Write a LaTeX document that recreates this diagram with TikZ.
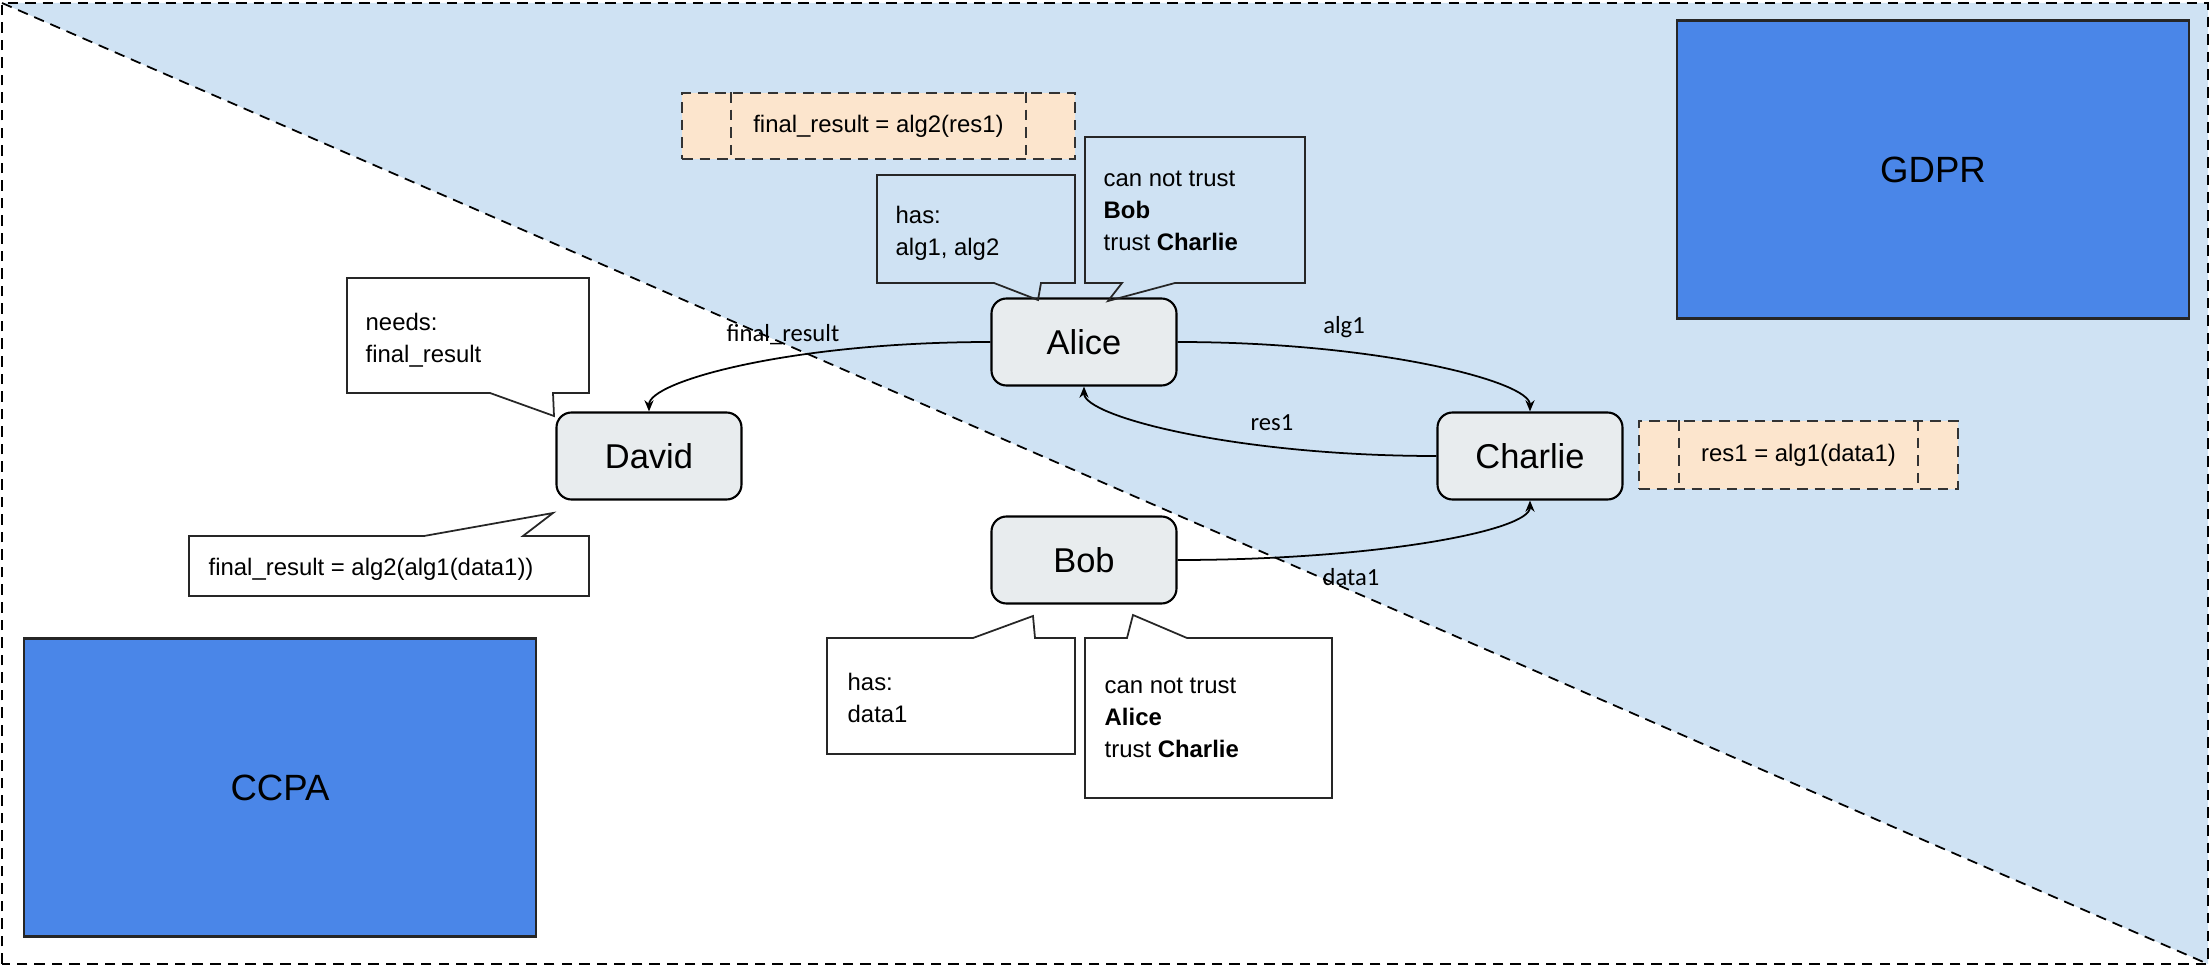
\documentclass[tikz,border=0pt]{standalone}
\usepackage{fontspec}
\setmainfont{Liberation Sans}
\newfontfamily\edgefont{Carlito}
\usetikzlibrary{arrows.meta}

\definecolor{zoneblue}{HTML}{CFE2F3}
\definecolor{lawblue}{HTML}{4A86E8}
\definecolor{partygray}{HTML}{E8ECEE}
\definecolor{calcorange}{HTML}{FCE5CD}

\begin{document}
\begin{tikzpicture}[
    party/.style={draw, line width=0.6pt, rounded corners=0.15cm, fill=partygray,
        minimum width=1.85cm, minimum height=0.87cm, font=\fontsize{9.8}{12}\selectfont},
    lawbox/.style={draw=black!85, line width=0.8pt, fill=lawblue,
        minimum width=5.12cm, minimum height=2.98cm, font=\fontsize{10.4}{12}\selectfont},
    calcbox/.style={draw=black!80, line width=0.5pt, dash pattern=on 3pt off 2pt,
        fill=calcorange, font=\fontsize{6.8}{9.1}\selectfont},
    calcbar/.style={draw=black!80, line width=0.5pt, dash pattern=on 3pt off 2pt},
    note/.style={anchor=west, align=left, inner sep=0pt, font=\fontsize{6.8}{9.1}\selectfont},
    bubble/.style={draw=black!85, line width=0.5pt},
    flow/.style={line width=0.5pt, -{Stealth[length=3.2pt,width=2.6pt]}},
    flowlabel/.style={inner sep=0pt, font=\edgefont\fontsize{7}{8}\selectfont}
]
    \useasboundingbox (0,0) rectangle (22.1,9.66);

    % Zones
    \fill[zoneblue] (0.02,9.63) -- (22.08,9.63) -- (22.08,0.02) -- cycle;
    \draw[line width=0.5pt, dash pattern=on 3pt off 2pt] (0.02,0.02) rectangle (22.08,9.63);
    \draw[line width=0.5pt, dash pattern=on 3pt off 2pt] (0.02,9.63) -- (22.08,0.02);

    \node[lawbox] (gdpr) at (19.33,7.965) {GDPR};
    \node[lawbox] (ccpa) at (2.80,1.785) {CCPA};

    % Parties
    \node[party] (alice) at (10.84,6.24) {Alice};
    \node[party] (david) at (6.49,5.10) {David};
    \node[party] (charlie) at (15.30,5.10) {Charlie};
    \node[party] (bob) at (10.84,4.06) {Bob};

    % Computations
    \node[calcbox, minimum width=3.93cm, minimum height=0.66cm] (alicecalc) at (8.785,8.40) {final\_result = alg2(res1)};
    \node[calcbox, minimum width=3.19cm, minimum height=0.68cm] (charliecalc) at (17.985,5.11) {res1 = alg1(data1)};
    \foreach \n/\d in {alicecalc/0.5, charliecalc/0.41} {
        \draw[calcbar] ([xshift=\d cm]\n.north west) -- ([xshift=\d cm]\n.south west);
        \draw[calcbar] ([xshift=-\d cm]\n.north east) -- ([xshift=-\d cm]\n.south east);
    }

    % Callouts of Alice
    \draw[bubble] (8.77,7.91) -- (10.75,7.91) -- (10.75,6.83) -- (10.41,6.83) -- (10.38,6.66) -- (9.94,6.83) -- (8.77,6.83) -- cycle;
    \node[note] (alicehas) at (8.95,7.33) {has:\\alg1, alg2};
    \draw[bubble] (10.85,8.29) -- (13.05,8.29) -- (13.05,6.83) -- (11.75,6.83) -- (11.08,6.65) -- (11.22,6.83) -- (10.85,6.83) -- cycle;
    \node[note] (alicetrust) at (11.03,7.55) {can not trust\\\textbf{Bob}\\trust \textbf{Charlie}};

    % Callouts of David
    \draw[bubble] (3.47,6.88) -- (5.89,6.88) -- (5.89,5.73) -- (5.53,5.73) -- (5.54,5.50) -- (4.90,5.73) -- (3.47,5.73) -- cycle;
    \node[note] (davidneeds) at (3.65,6.26) {needs:\\final\_result};
    \draw[bubble] (1.89,4.30) -- (4.24,4.30) -- (5.53,4.53) -- (5.23,4.30) -- (5.89,4.30) -- (5.89,3.70) -- (1.89,3.70) -- cycle;
    \node[note] (davidcalc) at (2.08,3.97) {final\_result = alg2(alg1(data1))};

    % Callouts of Bob
    \draw[bubble] (8.27,3.28) -- (9.73,3.28) -- (10.33,3.50) -- (10.35,3.28) -- (10.75,3.28) -- (10.75,2.12) -- (8.27,2.12) -- cycle;
    \node[note] (bobhas) at (8.47,2.685) {has:\\data1};
    \draw[bubble] (10.85,3.28) -- (11.27,3.28) -- (11.33,3.51) -- (11.87,3.28) -- (13.32,3.28) -- (13.32,1.68) -- (10.85,1.68) -- cycle;
    \node[note] (bobtrust) at (11.04,2.48) {can not trust\\\textbf{Alice}\\trust \textbf{Charlie}};

    % Messages
    \draw[flow] (alice.west) to[out=180, in=90, out distance=2.0cm, in distance=0.3cm] (david.north);
    \draw[flow] (alice.east) to[out=0, in=90, out distance=2.0cm, in distance=0.3cm] (charlie.north);
    \draw[flow] (charlie.west) to[out=180, in=270, out distance=2.0cm, in distance=0.3cm] (alice.south);
    \draw[flow] (bob.east) to[out=0, in=270, out distance=2.0cm, in distance=0.3cm] (charlie.south);

    \node[flowlabel] (lblfinal) at (7.83,6.31) {final\_result};
    \node[flowlabel] (lblalg) at (13.44,6.39) {alg1};
    \node[flowlabel] (lblres) at (12.72,5.43) {res1};
    \node[flowlabel] (lbldata) at (13.51,3.89) {data1};
\end{tikzpicture}
\end{document}
